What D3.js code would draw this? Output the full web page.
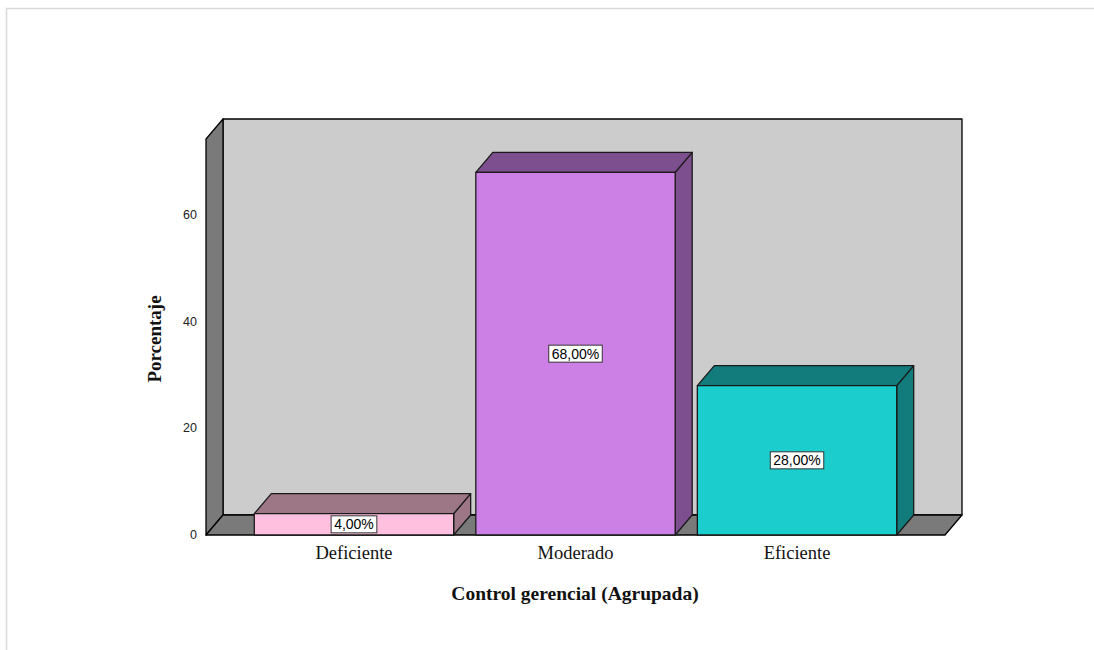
<!DOCTYPE html>
<html>
<head>
<meta charset="utf-8">
<script src="https://cdn.jsdelivr.net/npm/d3@7"></script>
<style>
  html, body { margin: 0; padding: 0; background: #fff; }
  svg { display: block; }
</style>
</head>
<body>
<svg id="chart" width="1094" height="650"></svg>
<script>
// Data
const categories = ["Deficiente", "Moderado", "Eficiente"];
const percentages = [4, 68, 28];
const valueLabels = ["4,00%", "68,00%", "28,00%"];
const yTicks = [0, 20, 40, 60];
const frontColors = ["#ffc0e0", "#cc80e6", "#1ccdcd"];
const shadeColors = ["#9e7787", "#7e4f8e", "#127c7c"];

const svg = d3.select("#chart");

// Outer frame
svg.append("path")
  .attr("d", "M6.5,650 L6.5,8.5 L1094,8.5")
  .attr("fill", "none").attr("stroke", "#d9d9d9").attr("stroke-width", 1.5);

// 3D geometry
const depthX = 17, depthY = -20;
const x = d3.scaleBand().domain(categories).range([206, 945])
  .paddingInner(0.1).paddingOuter(0.218);
const y = d3.scaleLinear().domain([0, 74.25]).range([535, 139]);

const x0 = 206, x1 = 945, yb = y(0), yt = y(74.25);
const poly = pts => "M" + pts.map(p => p.join(",")).join("L") + "Z";

const walls = svg.append("g").attr("stroke", "#000").attr("stroke-width", 1.3).attr("stroke-linejoin", "round");
// back wall
walls.append("path").attr("fill", "#cccccc")
  .attr("d", poly([[x0 + depthX, yt + depthY], [x1 + depthX, yt + depthY], [x1 + depthX, yb + depthY], [x0 + depthX, yb + depthY]]));
// left wall
walls.append("path").attr("fill", "#7a7a7a")
  .attr("d", poly([[x0, yt], [x0 + depthX, yt + depthY], [x0 + depthX, yb + depthY], [x0, yb]]));
// floor
walls.append("path").attr("fill", "#7a7a7a")
  .attr("d", poly([[x0, yb], [x0 + depthX, yb + depthY], [x1 + depthX, yb + depthY], [x1, yb]]));

// Bars
const bars = svg.append("g").attr("stroke", "#1a1a1a").attr("stroke-width", 1.3).attr("stroke-linejoin", "round");
categories.forEach((c, i) => {
  const bx = x(c), bw = x.bandwidth(), top = y(percentages[i]);
  const g = bars.append("g");
  // side
  g.append("path").attr("fill", shadeColors[i])
    .attr("d", poly([[bx + bw, top], [bx + bw + depthX, top + depthY], [bx + bw + depthX, yb + depthY], [bx + bw, yb]]));
  // top
  g.append("path").attr("fill", shadeColors[i])
    .attr("d", poly([[bx, top], [bx + depthX, top + depthY], [bx + bw + depthX, top + depthY], [bx + bw, top]]));
  // front
  g.append("rect").attr("fill", frontColors[i])
    .attr("x", bx).attr("y", top).attr("width", bw).attr("height", yb - top);
});

// Value labels
categories.forEach((c, i) => {
  const cx = x(c) + x.bandwidth() / 2;
  const cy = (y(percentages[i]) + yb) / 2;
  const g = svg.append("g");
  const t = g.append("text")
    .attr("x", cx).attr("y", cy)
    .attr("text-anchor", "middle").attr("dominant-baseline", "central")
    .attr("font-family", "Arial, 'Liberation Sans', sans-serif").attr("font-size", 14)
    .attr("fill", "#000").text(valueLabels[i]);
  const bb = t.node().getBBox();
  g.insert("rect", "text")
    .attr("x", bb.x - 3).attr("y", cy - 8.5)
    .attr("width", bb.width + 6).attr("height", 17)
    .attr("fill", "#fff").attr("stroke", "#333").attr("stroke-width", 1);
});

// Y axis tick labels
svg.append("g").selectAll("text").data(yTicks).join("text")
  .attr("x", 197).attr("y", d => y(d))
  .attr("text-anchor", "end").attr("dominant-baseline", "central")
  .attr("font-family", "Arial, 'Liberation Sans', sans-serif").attr("font-size", 12.5)
  .attr("fill", "#222").text(d => d);

// X axis category labels
svg.append("g").selectAll("text").data(categories).join("text")
  .attr("x", d => x(d) + x.bandwidth() / 2).attr("y", 559)
  .attr("text-anchor", "middle")
  .attr("font-family", "'Liberation Serif', 'Times New Roman', serif").attr("font-size", 18.5)
  .attr("fill", "#111").text(d => d);

// Axis titles
svg.append("text")
  .attr("x", 575).attr("y", 600).attr("text-anchor", "middle")
  .attr("font-family", "'Liberation Serif', 'Times New Roman', serif").attr("font-size", 19.5)
  .attr("font-weight", "bold").attr("fill", "#111")
  .text("Control gerencial (Agrupada)");

svg.append("text")
  .attr("transform", "translate(161,339) rotate(-90)").attr("text-anchor", "middle")
  .attr("font-family", "'Liberation Serif', 'Times New Roman', serif").attr("font-size", 19)
  .attr("font-weight", "bold").attr("fill", "#111")
  .text("Porcentaje");
</script>
</body>
</html>
